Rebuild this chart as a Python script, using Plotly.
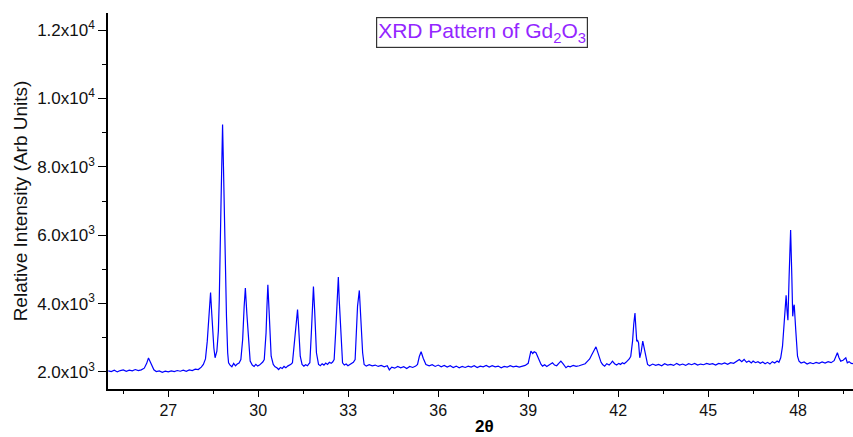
import plotly.graph_objects as go

two_theta = [
    25.0, 25.1, 25.2, 25.3, 25.4, 25.5, 25.6, 25.7, 25.8, 25.9, 26.0, 26.1,
    26.2, 26.28, 26.34, 26.4, 26.46, 26.52, 26.6,
    26.7, 26.8, 26.9, 27.0, 27.1, 27.2, 27.3, 27.4, 27.5, 27.6, 27.7, 27.8, 27.9, 28.0, 28.1, 28.17,
    28.24, 28.3, 28.36, 28.41, 28.45, 28.48, 28.52, 28.56, 28.62, 28.67, 28.70, 28.76, 28.81, 28.84,
    28.87, 28.89, 28.94, 28.98, 29.01, 29.06, 29.12, 29.18, 29.24, 29.3, 29.36,
    29.42, 29.48, 29.53, 29.57, 29.62, 29.66, 29.70, 29.73, 29.8, 29.86, 29.92, 29.98, 30.04, 30.1, 30.15,
    30.2, 30.26, 30.29, 30.32, 30.36, 30.39, 30.43, 30.5, 30.56, 30.62, 30.68, 30.74, 30.8, 30.86,
    30.92, 30.98, 31.04, 31.09,
    31.14, 31.2, 31.26, 31.31, 31.34, 31.37, 31.4, 31.46, 31.52, 31.58, 31.64, 31.68,
    31.72, 31.77, 31.81, 31.84, 31.88, 31.91, 31.94, 32.01, 32.07, 32.13, 32.19, 32.25, 32.31, 32.37,
    32.43, 32.48,
    32.53, 32.58, 32.62, 32.67, 32.7, 32.73, 32.77, 32.81, 32.87, 32.93, 32.99, 33.05, 33.11, 33.17,
    33.23, 33.27, 33.31, 33.37, 33.4, 33.43, 33.48, 33.53, 33.6, 33.7, 33.8, 33.9, 34.0, 34.1, 34.2,
    34.3, 34.37, 34.45, 34.55, 34.65, 34.75, 34.85, 34.95, 35.05, 35.15, 35.25,
    35.31, 35.37, 35.43, 35.5, 35.59, 35.7, 35.8, 35.9, 36.0, 36.1, 36.2, 36.3, 36.4, 36.5, 36.6, 36.7,
    36.8, 36.9, 37.0, 37.1, 37.2, 37.3, 37.4, 37.5, 37.6, 37.7, 37.8, 37.9, 38.0, 38.1, 38.2, 38.3,
    38.4, 38.5, 38.6, 38.7, 38.8, 38.9,
    39.0, 39.05, 39.09, 39.15, 39.2, 39.26, 39.32, 39.37, 39.43, 39.48, 39.55, 39.62, 39.7, 39.76,
    39.81, 39.88, 39.95, 40.02, 40.09, 40.16, 40.22, 40.26, 40.33, 40.4, 40.5, 40.6, 40.7, 40.8, 40.9,
    40.98, 41.05, 41.12, 41.2, 41.26, 41.31, 41.37, 41.43, 41.48, 41.55, 41.62, 41.7, 41.76, 41.81,
    41.88, 41.95, 42.02, 42.08, 42.14, 42.2, 42.26, 42.31, 42.37, 42.42, 42.48, 42.52, 42.56, 42.59,
    42.62, 42.65, 42.68, 42.72, 42.77, 42.82, 42.85, 42.89, 42.94, 42.98,
    43.05, 43.15, 43.25, 43.35, 43.45, 43.55, 43.65, 43.75, 43.85, 43.95, 44.05, 44.15, 44.25, 44.35,
    44.45, 44.55, 44.65, 44.75, 44.85, 44.95, 45.05, 45.15, 45.25, 45.35, 45.45, 45.55, 45.65, 45.75,
    45.85, 45.95, 46.04, 46.12, 46.2, 46.28, 46.36, 46.44, 46.5, 46.58, 46.66, 46.74, 46.82, 46.9,
    46.98, 47.06, 47.14, 47.22, 47.3, 47.36, 47.42, 47.48, 47.53, 47.57, 47.6, 47.63, 47.66, 47.7,
    47.75, 47.79, 47.82, 47.85, 47.87, 47.92, 47.98, 48.03, 48.1, 48.2, 48.3, 48.4, 48.5, 48.6, 48.7,
    48.8, 48.9, 49.0, 49.1, 49.2, 49.26, 49.31, 49.36, 49.42, 49.5, 49.56, 49.59, 49.64, 49.7, 49.77,
    49.83,
]
intensity = [
    2030, 2010, 2050, 2000, 2040, 2060, 2020, 2050, 2030, 2070, 2040, 2060,
    2110, 2250, 2410, 2300, 2160, 2060, 2010,
    2030, 1990, 2020, 2000, 2030, 2010, 2040, 2020, 2050, 2020, 2060, 2040, 2080, 2070, 2140, 2220,
    2380, 2900, 3700, 4325, 3700, 3240, 2700, 2414, 2606, 3200, 4113, 7030, 9241, 8000,
    6500, 5860, 3626, 2560, 2268, 2200, 2150, 2250, 2180, 2230, 2260,
    2364, 2947, 3917, 4454, 3700, 3238, 2560, 2315, 2200, 2160, 2220, 2170, 2200, 2240, 2290,
    2364, 3142, 3917, 4550, 3800, 3238, 2460, 2218, 2150, 2120, 2070, 2130, 2100, 2160,
    2120, 2170, 2190, 2220,
    2268, 2752, 3335, 3821, 3400, 2947, 2460, 2218, 2170, 2210, 2180, 2230,
    2268, 3142, 3917, 4500, 3800, 3335, 2560, 2218, 2180, 2240, 2200, 2260, 2220, 2280,
    2250, 2290,
    2364, 3142, 4113, 4774, 4100, 3588, 2752, 2268, 2200, 2230, 2180, 2210, 2240, 2280,
    2364, 3142, 3917, 4384, 3900, 3530, 2560, 2218, 2170, 2210, 2180, 2200, 2160, 2190, 2150,
    2180, 2060, 2140, 2110, 2160, 2120, 2150, 2100, 2160, 2130, 2170,
    2218, 2450, 2589, 2400, 2218, 2180, 2210, 2160, 2200, 2150, 2190, 2140, 2180, 2130, 2170, 2120,
    2160, 2130, 2170, 2140, 2180, 2130, 2170, 2150, 2190, 2140, 2180, 2150, 2170, 2120, 2160, 2140,
    2180, 2150, 2170, 2140, 2160, 2190,
    2250, 2500, 2606, 2540, 2590, 2560, 2450, 2315, 2220, 2170, 2210, 2160, 2200, 2240,
    2268, 2200, 2180, 2250, 2315, 2240, 2180, 2122, 2170, 2150, 2190, 2160, 2180, 2200, 2240,
    2315, 2380, 2500, 2650, 2734, 2600, 2414, 2280, 2218, 2170, 2240, 2200, 2260, 2315,
    2240, 2200, 2250, 2220, 2268, 2240, 2280, 2315, 2380, 2460, 2900, 3400, 3725, 3300,
    2898, 2920, 2850, 2414, 2600, 2898, 2750, 2560, 2350, 2218,
    2180, 2230, 2190, 2220, 2180, 2240, 2200, 2220, 2190, 2250, 2200, 2230, 2190, 2240,
    2210, 2250, 2200, 2230, 2210, 2250, 2220, 2240, 2200, 2250, 2230, 2260, 2220, 2270,
    2250, 2300, 2364, 2300, 2364, 2280, 2320, 2260, 2315, 2270, 2300, 2250, 2290, 2240,
    2280, 2230, 2300, 2260, 2320, 2280, 2414, 2752, 3335, 3900, 4238, 3800, 3510, 4800,
    6152, 4800, 3626, 3900, 3967, 3238, 2460, 2315, 2260, 2290, 2230, 2270, 2240, 2280, 2250,
    2290, 2260, 2300, 2270, 2330, 2450, 2560, 2420, 2315, 2340, 2380, 2414, 2268, 2300, 2250,
    2240,
]

y_tick_vals = [2000, 4000, 6000, 8000, 10000, 12000]
y_tick_text = ["2.0x10<sup>3</sup>", "4.0x10<sup>3</sup>", "6.0x10<sup>3</sup>",
               "8.0x10<sup>3</sup>", "1.0x10<sup>4</sup>", "1.2x10<sup>4</sup>"]

FONT = "Arial, Liberation Sans, sans-serif"

fig = go.Figure()
fig.add_trace(go.Scatter(x=two_theta, y=intensity, mode="lines",
                         line=dict(color="#0000FF", width=1.2), showlegend=False))

fig.update_layout(
    width=853, height=437,
    margin=dict(l=108, r=0, t=13, b=48, autoexpand=False),
    paper_bgcolor="white", plot_bgcolor="white",
    font=dict(family=FONT, color="#111111"),
    xaxis=dict(
        range=[24.99, 49.83], showgrid=False, zeroline=False, automargin=False,
        showline=True, linecolor="black", linewidth=1.6,
        ticks="outside", ticklen=6, tickwidth=1.3, tickcolor="black",
        tick0=27, dtick=3,
        minor=dict(ticks="outside", ticklen=3, tickwidth=1.2, tickcolor="black", dtick=1.5, tick0=25.5, showgrid=False),
        tickfont=dict(size=16, family=FONT, color="#111111"),
    ),
    yaxis=dict(
        range=[1500, 12500], showgrid=False, zeroline=False, automargin=False,
        showline=True, linecolor="black", linewidth=1.6,
        ticks="outside", ticklen=8, tickwidth=1.3, tickcolor="black",
        tickvals=y_tick_vals, ticktext=y_tick_text,
        minor=dict(ticks="outside", ticklen=4, tickwidth=1.2, tickcolor="black",
                   tickvals=[3000, 5000, 7000, 9000, 11000], showgrid=False),
        tickfont=dict(size=17, family=FONT, color="#111111"),
        title=dict(text="Relative Intensity (Arb Units)", font=dict(size=19, family=FONT, color="#111111"), standoff=4),
    ),
    annotations=[
        dict(
            text="XRD Pattern of Gd<sub>2</sub>O<sub>3</sub>",
            xref="paper", yref="paper", x=0.502, y=0.947,
            xanchor="center", yanchor="middle", showarrow=False,
            font=dict(size=21, family=FONT, color="#9326FF"),
            bgcolor="white", bordercolor="#333333", borderwidth=1.2, borderpad=1,
        ),
        dict(
            text="<b>2θ</b>",
            xref="paper", yref="paper", x=0.505, y=-0.1,
            xanchor="center", yanchor="middle", showarrow=False,
            font=dict(size=17, family=FONT, color="black"),
        ),
    ],
)

fig.write_html("out.html", config={"displayModeBar": False},
               post_script="document.body.style.margin='0';document.body.style.padding='0';")
